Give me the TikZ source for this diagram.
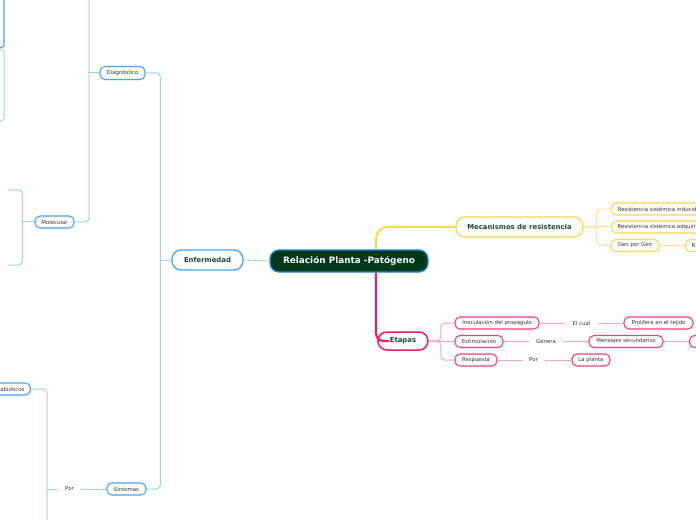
\documentclass[tikz,border=0pt]{standalone}
\usepackage{fontspec}
\setmainfont{DejaVu Sans}
\usetikzlibrary{calc}
\definecolor{nodeblue}{HTML}{42A5F5}
\definecolor{lineblue}{HTML}{A3D1F7}
\definecolor{cborder}{HTML}{1E88E5}
\definecolor{cfill}{HTML}{01371A}
\definecolor{dgreen}{HTML}{17493A}
\definecolor{nodeyellow}{HTML}{FFD54F}
\definecolor{lineyellow}{HTML}{FFE58F}
\definecolor{mainyellow}{HTML}{FFD740}
\definecolor{nodepink}{HTML}{EC407A}
\definecolor{linepink}{HTML}{F6A5C0}
\definecolor{mainpink}{HTML}{E91E63}
\definecolor{textgray}{HTML}{333333}
\tikzset{
  smallnode/.style={draw, rounded corners=5bp, line width=1.1bp, fill=white,
    font=\fontsize{5.4}{6}\selectfont, text=textgray, minimum height=12bp,
    inner xsep=6bp, inner ysep=0pt},
  bnode/.style={smallnode, draw=nodeblue},
  ynode/.style={smallnode, draw=nodeyellow},
  pnode/.style={smallnode, draw=nodepink},
  lvlone/.style={draw, rounded corners=9bp, line width=1.3bp, fill=white,
    font=\fontsize{6.9}{8}\selectfont\bfseries, text=dgreen, minimum height=20bp, inner sep=0pt},
  lvlzero/.style={draw=cborder, fill=cfill, rounded corners=9bp, line width=1.3bp,
    font=\fontsize{8.9}{10}\selectfont\bfseries, text=white, minimum height=22bp, inner sep=0pt},
  lbl/.style={font=\fontsize{5.4}{6}\selectfont, text=textgray, inner xsep=7bp, inner ysep=1bp},
  bline/.style={draw=lineblue, line width=1bp, rounded corners=4bp},
  yline/.style={draw=lineyellow, line width=1bp, rounded corners=4bp},
  pline/.style={draw=linepink, line width=1bp, rounded corners=4bp},
}
\begin{document}
\begin{tikzpicture}[x=1bp,y=-1bp]
\useasboundingbox[fill=white] (0,0) rectangle (696,520);
\clip (0,0) rectangle (696,520);

% ---------- nodes ----------
\node[lvlzero, minimum width=158bp] (central) at (349,261) {Relación Planta -Patógeno};
\node[lvlone, draw=nodeblue, minimum width=71bp] (enf) at (207.5,260) {Enfermedad};
\node[bnode, minimum width=45bp, minimum height=13bp] (diag) at (122.5,73) {Diagnóstico};
\node[bnode, minimum width=39bp] (mol) at (54.5,222) {Molecular};
\node[bnode, minimum width=39bp] (sint) at (126.5,489) {Síntomas};
\node[bnode, anchor=east, text width=38bp, align=right] (abio) at (31,389) {abióticos};
\node[lbl] (por1) at (69.5,489) {Por};

\node[lvlone, draw=nodeyellow, minimum width=127bp] (mec) at (519.5,227) {Mecanismos de resistencia};
\node[ynode, anchor=west] (rsi) at (611,209) {Resistencia sistémica inducida};
\node[ynode, anchor=west] (rsa) at (611,227) {Resistencia sistémica adquirida};
\node[ynode, minimum width=48bp] (gpg) at (635,245.5) {Gen por Gen};
\node[ynode, anchor=west, text width=30bp, align=left] (rr) at (685,245.5) {R};

\node[lvlone, draw=mainpink, line width=1.5bp, minimum width=50bp, minimum height=18bp] (eta) at (403,341) {Etapas};
\node[pnode, minimum width=84bp] (ino) at (497,323) {Inoculación del propágulo};
\node[lbl] (elcual) at (581.5,323) {El cual};
\node[pnode, minimum width=69bp] (pro) at (658.5,323) {Prolifera en el tejido};
\node[pnode, minimum width=48bp] (est) at (479,341.5) {Estimulación};
\node[lbl] (genera) at (546,341.5) {Genera};
\node[pnode, minimum width=74bp] (men) at (626,341.5) {Mensajes secundarios};
\node[pnode, anchor=west, minimum width=40bp] (off) at (689,341.5) {};
\node[pnode, minimum width=42bp] (res) at (476,360) {Respuesta};
\node[lbl] (por2) at (533.5,360) {Por};
\node[pnode, minimum width=38bp] (pla) at (591,360) {La planta};

% ---------- free ends ----------
\coordinate (topA) at (89,-5);
\coordinate (m1) at (8,190);
\coordinate (m2) at (8,265);
\coordinate (botS) at (47,530);
\coordinate (tl1) at (0,49);
\coordinate (tl2) at (0,121);
\coordinate (tl3) at (4,-5);
\coordinate (tl4) at (-3,47.5);

% ---------- connectors (left) ----------
\draw[bline] (enf.east) -- (central.west);
\draw[bline] (diag.east) -| ([xshift=-11bp]enf.west);
\draw[bline] (sint.east) -| ([xshift=-11bp]enf.west);
\draw[bline] (enf.west) -- ++(-11,0);
\draw[bline] (mol.east) -| (topA);
\draw[bline] (diag.west) -- ++(-11,0);
\draw[bline] (m1) -| ([xshift=-12bp]mol.west);
\draw[bline] (m2) -| ([xshift=-12bp]mol.west);
\draw[bline] (mol.west) -- ++(-12,0);
\draw[bline, rounded corners=3bp] (tl1) -- ++(4,0) |- (tl2);
\draw[draw=nodeblue, line width=1.1bp, rounded corners=3bp] (tl3) |- (tl4);
\draw[bline] (sint.west) -- (por1.east);
\draw[bline] (abio.east) -| ([xshift=-11bp]por1.west);
\draw[bline] (por1.west) -- ++(-11,0);
\draw[bline] ([xshift=-11bp]por1.west) -- (botS);

% ---------- connectors (right) ----------
\draw[draw=mainyellow, line width=1.8bp, rounded corners=12bp] ([xshift=27bp]central.north) |- (mec.west);
\draw[yline] (mec.east) -- ++(13,0) |- (rsi.west);
\draw[yline] (mec.east) -- (rsa.west);
\draw[yline] (mec.east) -- ++(13,0) |- (gpg.west);
\draw[yline] (gpg.east) -- (rr.west);

\draw[pline] (eta.east) -- ++(12,0) |- (ino.west);
\draw[pline] (eta.east) -- (est.west);
\draw[pline] (eta.east) -- ++(12,0) |- (res.west);
\draw[pline] (ino.east) -- (elcual.west);
\draw[pline] (elcual.east) -- (pro.west);
\draw[pline] (est.east) -- (genera.west);
\draw[pline] (genera.east) -- (men.west);
\draw[pline] (men.east) -- (off.west);
\draw[pline] (res.east) -- (por2.west);
\draw[pline] (por2.east) -- (pla.west);
\draw[draw=mainpink, line width=2.2bp, rounded corners=8bp] ([xshift=27bp]central.south) |- ([xshift=12bp]eta.west);
\end{tikzpicture}
\end{document}
